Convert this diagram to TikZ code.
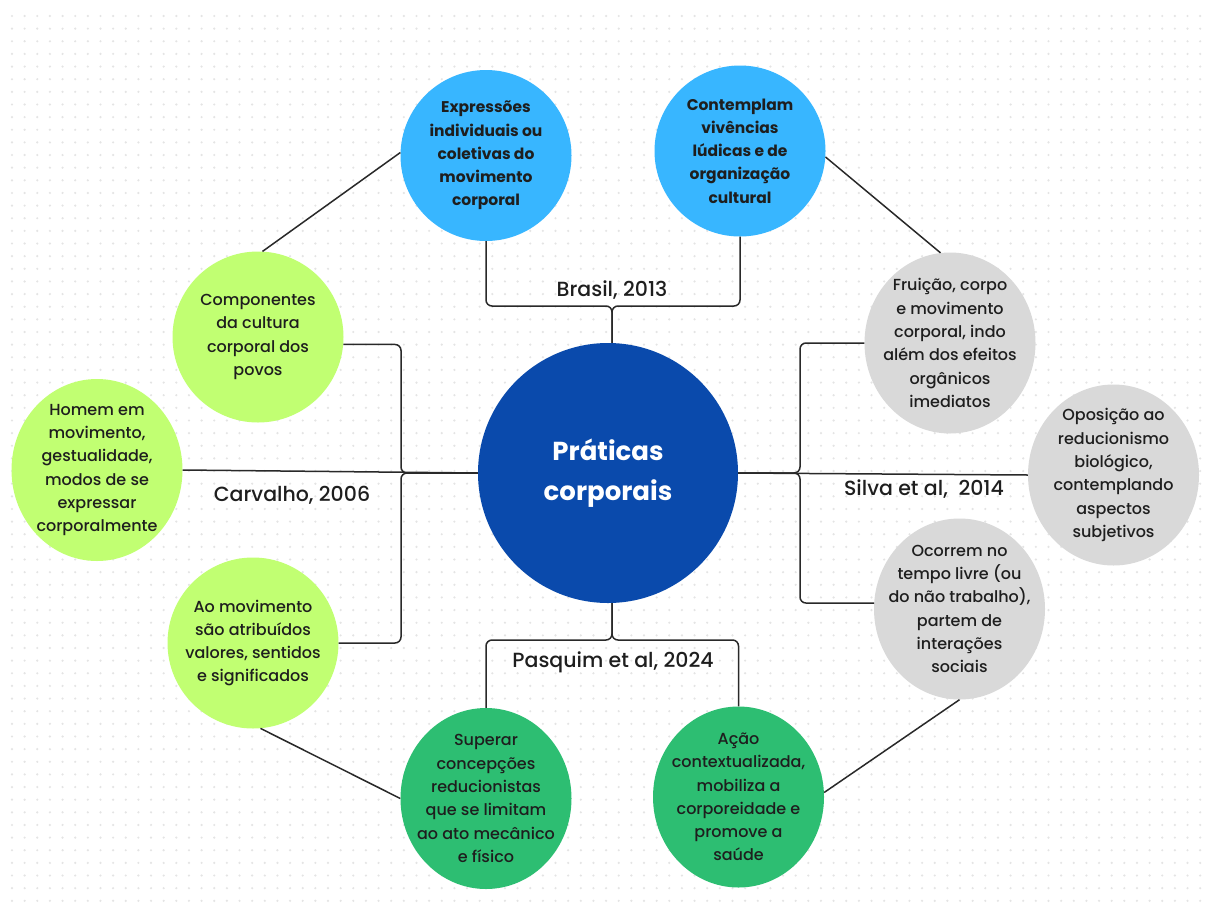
\documentclass[tikz,border=0pt]{standalone}
\usepackage{fontspec}
\setmainfont{Poppins}[UprightFont=* Medium, BoldFont=* Bold]
\usetikzlibrary{shapes.geometric}

\definecolor{hubblue}{HTML}{0A4AAC}
\definecolor{skyblue}{HTML}{38B6FF}
\definecolor{limegreen}{HTML}{C1FF72}
\definecolor{softgrey}{HTML}{D9D9D9}
\definecolor{leafgreen}{HTML}{2DBE72}
\definecolor{ink}{HTML}{1E1E1E}
\definecolor{dotgrey}{HTML}{E4E4E4}

% bubble: shape style, text style, name, position, text
\newcommand{\bub}[5]{%
    \node[#1] (#3) at (#4) {};
    \node[#2] (#3-txt) at (#3) {#5};}

\begin{document}
\begin{tikzpicture}[x=1pt, y=-1pt,
    link/.style={draw=ink!95, line width=1.5pt, rounded corners=6pt},
    disc/.style={circle, inner sep=0pt, minimum size=171pt},
    oval/.style={ellipse, inner sep=0pt, minimum width=171pt, minimum height=181pt},
    bluebub/.style={disc, fill=skyblue},
    limebub/.style={disc, fill=limegreen},
    limeoval/.style={oval, fill=limegreen, minimum height=182pt},
    greybub/.style={oval, fill=softgrey},
    greenbub/.style={oval, fill=leafgreen},
    plaintxt/.style={align=center, inner sep=0pt, text=ink, font=\fontsize{16}{23.3}\selectfont},
    boldtxt/.style={plaintxt, font=\bfseries\fontsize{15.5}{23.3}\selectfont},
    cite/.style={text=ink, inner sep=1pt, font=\fontsize{20.5}{22}\selectfont}]
    \useasboundingbox (0,0) rectangle (1206,910);
    \fill[white] (0,0) rectangle (1206,910);

    % Dotted page
    \foreach \i in {0,...,94}
        \foreach \j in {0,...,70}
            \fill[dotgrey] (12+12.64*\i,16+12.64*\j) circle (1.2);

    % Brace joints
    \coordinate (jtop) at (612,306);
    \coordinate (jleft) at (401,473);
    \coordinate (jright) at (800,473);
    \coordinate (jbot) at (612,640);

    % Centre
    \node[circle, fill=hubblue, minimum size=260pt, inner sep=0pt, align=center,
        text=white, font=\bfseries\fontsize{26}{40}\selectfont] (prat) at (608,473) {Práticas\\corporais};

    % Brasil, 2013
    \bub{bluebub}{boldtxt}{expr}{486,155.5}{Expressões\\individuais ou\\coletivas do\\movimento\\corporal}
    \bub{bluebub}{boldtxt}{cont}{740,151}{Contemplam\\vivências\\lúdicas e de\\organização\\cultural}

    % Carvalho, 2006
    \bub{limebub}{plaintxt}{comp}{258,337}{Componentes\\da cultura\\corporal dos\\povos}
    \bub{limeoval}{plaintxt}{homem}{97,470}{Homem em\\movimento,\\gestualidade,\\modos de se\\expressar\\corporalmente}
    \bub{limebub}{plaintxt}{atrib}{253,643}{Ao movimento\\são atribuídos\\valores, sentidos\\e significados}

    % Silva et al, 2014
    \bub{greybub}{plaintxt}{fruic}{950,343}{Fruição, corpo\\e movimento\\corporal, indo\\além dos efeitos\\orgânicos\\imediatos}
    \bub{greybub}{plaintxt}{oposic}{1113.5,475}{Oposição ao\\reducionismo\\biológico,\\contemplando\\aspectos\\subjetivos}
    \bub{greybub}{plaintxt}{ocorr}{959.5,609}{Ocorrem no\\tempo livre (ou\\do não trabalho),\\partem de\\interações\\sociais}

    % Pasquim et al, 2024
    \bub{greenbub}{plaintxt}{super}{486,798.5}{Superar\\concepções\\reducionistas\\que se limitam\\ao ato mecânico\\e físico}
    \bub{greenbub}{plaintxt}{acao}{738.5,797}{Ação\\contextualizada,\\mobiliza a\\corporeidade e\\promove a\\saúde}

    % Connectors
    \draw[link] (expr.south) |- (jtop) -- (jtop |- prat.north);
    \draw[link] (cont.south) |- (jtop) -- (jtop |- prat.north);
    \draw[link] (comp.-5) -| (jleft) -- (prat.west);
    \draw[link] (atrib.east) -| (jleft) -- (prat.west);
    \draw[link] (homem.east) -- (prat.west);
    \draw[link] (fruic.west) -| (jright) -- (prat.east);
    \draw[link] (ocorr.176) -| (jright) -- (prat.east);
    \draw[link] (prat.east) -- (oposic.west);
    \draw[link] (super.north) |- (jbot) -- (jbot |- prat.south);
    \draw[link] (acao.north) |- (jbot) -- (jbot |- prat.south);

    % Outer ring
    \draw[link] (expr.178) -- (comp.87);
    \draw[link] (cont.-4) -- (fruic.96);
    \draw[link] (atrib.-85) -- (super.west);
    \draw[link] (acao.3) -- (ocorr.south);

    % Sources
    \node[cite] (lbrasil) at (612,290) {Brasil, 2013};
    \node[cite] (lcarv) at (292,495) {Carvalho, 2006};
    \node[cite] (lsilva) at (924,489) {Silva et al,\ \ 2014};
    \node[cite] (lpasq) at (613,662) {Pasquim et al, 2024};
\end{tikzpicture}
\end{document}
